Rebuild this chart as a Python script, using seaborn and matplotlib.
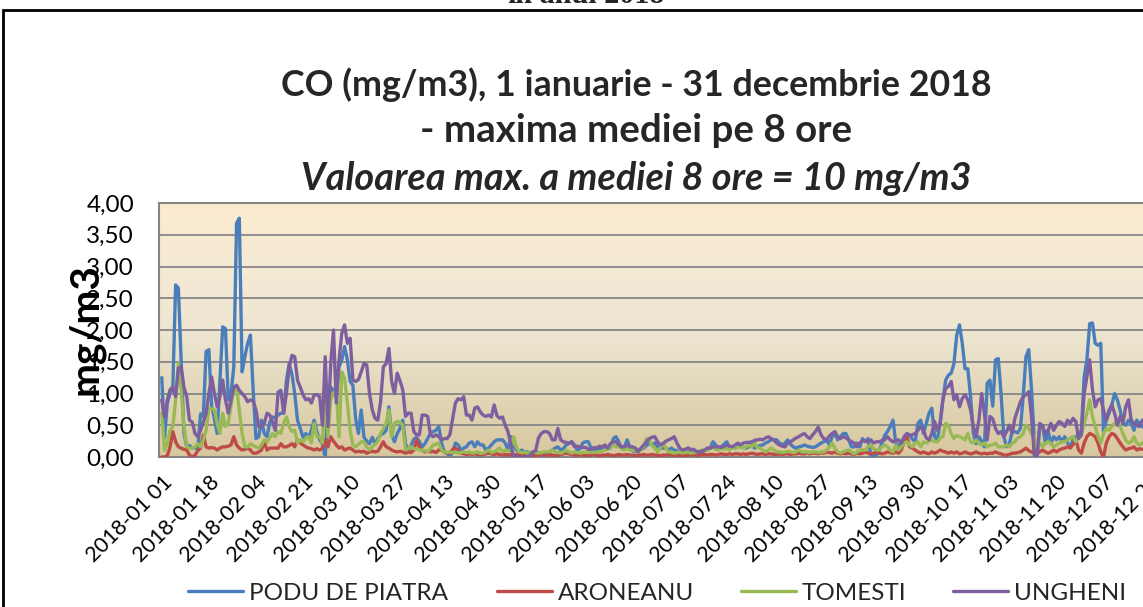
import numpy as np
import pandas as pd
import matplotlib
matplotlib.use("Agg")
import matplotlib.pyplot as plt
import matplotlib.patches as mpatches
import seaborn as sns

# ---------------- data (daily maximum of 8h mean, mg/m3), day 0 = 2018-01-01 ----------------
podu_de_piatra = [
    1.25, 0.30, 0.85, 1.00, 1.10, 2.71, 2.66, 1.50, 0.37, 0.16,
    0.18, 0.14, 0.15, 0.12, 0.68, 0.64, 1.66, 1.69, 0.80, 0.60,
    0.37, 1.20, 2.05, 2.02, 0.90, 1.00, 1.42, 3.68, 3.76, 1.34,
    1.58, 1.79, 1.92, 1.05, 0.29, 0.32, 0.58, 0.37, 0.32, 0.55,
    0.63, 0.62, 0.66, 0.69, 0.69, 1.20, 1.47, 1.30, 1.00, 0.58,
    0.45, 0.31, 0.37, 0.31, 0.42, 0.58, 0.40, 0.27, 0.21, 0.00,
    0.74, 1.10, 1.05, 0.95, 1.42, 1.53, 1.74, 1.53, 1.19, 1.13,
    0.60, 0.37, 0.74, 0.31, 0.25, 0.21, 0.31, 0.21, 0.29, 0.35,
    0.37, 0.42, 0.79, 0.35, 0.24, 0.37, 0.45, 0.58, 0.21, 0.10,
    0.18, 0.28, 0.31, 0.24, 0.16, 0.21, 0.29, 0.37, 0.40, 0.42,
    0.48, 0.22, 0.08, 0.05, 0.03, 0.06, 0.22, 0.19, 0.11, 0.14,
    0.16, 0.22, 0.24, 0.16, 0.24, 0.19, 0.19, 0.11, 0.14, 0.19,
    0.24, 0.27, 0.27, 0.27, 0.22, 0.11, 0.32, 0.19, 0.11, 0.08,
    0.11, 0.08, 0.08, 0.06, 0.06, 0.08, 0.06, 0.04, 0.03, 0.06,
    0.08, 0.11, 0.14, 0.16, 0.11, 0.13, 0.19, 0.22, 0.24, 0.19,
    0.11, 0.13, 0.22, 0.24, 0.24, 0.14, 0.11, 0.11, 0.13, 0.14,
    0.14, 0.13, 0.14, 0.29, 0.32, 0.24, 0.13, 0.16, 0.27, 0.16,
    0.10, 0.08, 0.11, 0.12, 0.14, 0.18, 0.22, 0.19, 0.22, 0.16,
    0.14, 0.14, 0.14, 0.11, 0.14, 0.11, 0.10, 0.08, 0.08, 0.11,
    0.14, 0.12, 0.11, 0.08, 0.06, 0.08, 0.10, 0.12, 0.14, 0.24,
    0.19, 0.14, 0.16, 0.20, 0.24, 0.14, 0.16, 0.14, 0.19, 0.16,
    0.15, 0.14, 0.16, 0.19, 0.14, 0.16, 0.18, 0.19, 0.22, 0.24,
    0.27, 0.27, 0.27, 0.22, 0.19, 0.22, 0.27, 0.20, 0.16, 0.14,
    0.16, 0.17, 0.19, 0.17, 0.16, 0.15, 0.16, 0.19, 0.22, 0.24,
    0.27, 0.19, 0.32, 0.37, 0.27, 0.32, 0.37, 0.37, 0.27, 0.16,
    0.16, 0.22, 0.16, 0.29, 0.24, 0.29, 0.03, 0.00, 0.03, 0.10,
    0.22, 0.34, 0.40, 0.48, 0.58, 0.22, 0.16, 0.24, 0.22, 0.37,
    0.34, 0.28, 0.24, 0.53, 0.58, 0.37, 0.53, 0.69, 0.77, 0.32,
    0.27, 0.53, 0.90, 1.21, 1.29, 1.32, 1.47, 1.92, 2.08, 1.79,
    1.39, 1.39, 0.95, 0.37, 0.21, 0.32, 0.25, 0.16, 1.16, 1.21,
    0.80, 1.53, 1.55, 1.00, 0.32, 0.16, 0.20, 0.40, 0.40, 0.38,
    0.45, 0.95, 1.58, 1.69, 1.06, 0.27, 0.00, 0.50, 0.50, 0.21,
    0.42, 0.21, 0.32, 0.27, 0.32, 0.24, 0.32, 0.22, 0.16, 0.27,
    0.32, 0.35, 0.42, 1.26, 1.53, 2.10, 2.11, 1.79, 1.76, 1.79,
    0.40, 0.58, 0.69, 0.82, 1.00, 0.90, 0.74, 0.53, 0.50, 0.58,
    0.53, 0.42, 0.58, 0.53, 0.48, 0.45, 0.50, 0.55, 0.48, 0.42,
    0.45, 0.50, 0.46, 0.40, 0.44,
]

aroneanu = [
    0.00, 0.00, 0.02, 0.16, 0.40, 0.24, 0.16, 0.14, 0.12, 0.11,
    0.03, 0.00, 0.03, 0.10, 0.14, 0.35, 0.16, 0.14, 0.15, 0.14,
    0.11, 0.14, 0.16, 0.16, 0.17, 0.19, 0.32, 0.19, 0.14, 0.11,
    0.12, 0.14, 0.11, 0.06, 0.06, 0.08, 0.11, 0.24, 0.11, 0.14,
    0.14, 0.14, 0.14, 0.21, 0.16, 0.16, 0.18, 0.21, 0.16, 0.27,
    0.22, 0.19, 0.16, 0.14, 0.13, 0.11, 0.13, 0.11, 0.14, 0.27,
    0.16, 0.32, 0.25, 0.19, 0.14, 0.16, 0.11, 0.13, 0.14, 0.11,
    0.08, 0.09, 0.08, 0.09, 0.06, 0.08, 0.09, 0.08, 0.09, 0.16,
    0.24, 0.16, 0.14, 0.11, 0.09, 0.08, 0.09, 0.08, 0.06, 0.08,
    0.07, 0.11, 0.27, 0.16, 0.11, 0.08, 0.09, 0.08, 0.09, 0.07,
    0.11, 0.11, 0.08, 0.06, 0.06, 0.12, 0.14, 0.11, 0.06, 0.05,
    0.04, 0.05, 0.04, 0.05, 0.04, 0.03, 0.04, 0.05, 0.06, 0.05,
    0.04, 0.05, 0.04, 0.03, 0.04, 0.03, 0.04, 0.03, 0.04, 0.03,
    0.02, 0.03, 0.04, 0.03, 0.03, 0.02, 0.03, 0.04, 0.03, 0.03,
    0.04, 0.03, 0.02, 0.03, 0.04, 0.05, 0.06, 0.05, 0.04, 0.03,
    0.03, 0.04, 0.03, 0.02, 0.03, 0.03, 0.04, 0.03, 0.02, 0.03,
    0.03, 0.04, 0.03, 0.02, 0.03, 0.04, 0.03, 0.03, 0.04, 0.03,
    0.03, 0.02, 0.03, 0.03, 0.04, 0.03, 0.03, 0.04, 0.03, 0.03,
    0.02, 0.03, 0.03, 0.04, 0.03, 0.03, 0.02, 0.03, 0.03, 0.02,
    0.03, 0.03, 0.04, 0.03, 0.03, 0.04, 0.04, 0.03, 0.04, 0.04,
    0.03, 0.04, 0.05, 0.04, 0.04, 0.05, 0.04, 0.05, 0.05, 0.04,
    0.05, 0.04, 0.05, 0.06, 0.05, 0.04, 0.05, 0.05, 0.04, 0.05,
    0.05, 0.04, 0.04, 0.05, 0.04, 0.05, 0.05, 0.04, 0.05, 0.05,
    0.06, 0.05, 0.05, 0.06, 0.05, 0.06, 0.06, 0.05, 0.07, 0.06,
    0.08, 0.07, 0.06, 0.08, 0.06, 0.05, 0.06, 0.05, 0.06, 0.05,
    0.04, 0.06, 0.05, 0.06, 0.08, 0.06, 0.05, 0.06, 0.08, 0.06,
    0.05, 0.06, 0.08, 0.07, 0.06, 0.08, 0.06, 0.11, 0.24, 0.32,
    0.16, 0.14, 0.11, 0.08, 0.06, 0.08, 0.06, 0.05, 0.08, 0.06,
    0.08, 0.11, 0.09, 0.08, 0.06, 0.08, 0.06, 0.08, 0.05, 0.06,
    0.08, 0.06, 0.05, 0.06, 0.08, 0.06, 0.05, 0.06, 0.05, 0.06,
    0.06, 0.08, 0.06, 0.05, 0.03, 0.03, 0.04, 0.06, 0.06, 0.07,
    0.08, 0.11, 0.14, 0.10, 0.08, 0.06, 0.06, 0.08, 0.11, 0.08,
    0.06, 0.08, 0.11, 0.08, 0.11, 0.13, 0.14, 0.16, 0.14, 0.20,
    0.27, 0.11, 0.06, 0.22, 0.32, 0.37, 0.35, 0.32, 0.22, 0.08,
    0.00, 0.22, 0.32, 0.37, 0.35, 0.29, 0.22, 0.16, 0.11, 0.13,
    0.14, 0.16, 0.11, 0.13, 0.12, 0.14, 0.12, 0.15, 0.13, 0.11,
    0.14, 0.16, 0.12, 0.13, 0.15,
]

tomesti = [
    0.69, 0.11, 0.21, 0.42, 0.48, 0.90, 1.48, 1.05, 0.48, 0.16,
    0.14, 0.14, 0.16, 0.21, 0.16, 0.27, 0.42, 0.77, 0.76, 0.74,
    0.53, 0.37, 0.69, 0.48, 0.53, 0.80, 1.05, 1.10, 0.74, 0.37,
    0.16, 0.16, 0.21, 0.18, 0.16, 0.14, 0.19, 0.27, 0.24, 0.30,
    0.37, 0.32, 0.40, 0.37, 0.53, 0.63, 0.48, 0.40, 0.42, 0.22,
    0.27, 0.24, 0.30, 0.32, 0.22, 0.53, 0.32, 0.32, 0.22, 1.00,
    0.32, 0.90, 1.00, 1.06, 0.32, 1.34, 1.24, 0.85, 0.42, 0.19,
    0.16, 0.20, 0.24, 0.24, 0.16, 0.11, 0.16, 0.20, 0.24, 0.37,
    0.45, 0.53, 0.74, 0.32, 0.53, 0.56, 0.55, 0.50, 0.11, 0.13,
    0.16, 0.13, 0.13, 0.11, 0.11, 0.10, 0.08, 0.13, 0.19, 0.20,
    0.22, 0.11, 0.08, 0.07, 0.08, 0.07, 0.08, 0.06, 0.07, 0.08,
    0.07, 0.08, 0.06, 0.07, 0.08, 0.06, 0.06, 0.08, 0.11, 0.07,
    0.08, 0.11, 0.14, 0.08, 0.11, 0.09, 0.11, 0.32, 0.16, 0.08,
    0.07, 0.08, 0.06, 0.06, 0.08, 0.07, 0.06, 0.07, 0.08, 0.08,
    0.08, 0.11, 0.08, 0.07, 0.06, 0.08, 0.11, 0.08, 0.06, 0.08,
    0.07, 0.06, 0.07, 0.08, 0.07, 0.08, 0.07, 0.08, 0.08, 0.09,
    0.11, 0.14, 0.14, 0.19, 0.16, 0.16, 0.14, 0.11, 0.13, 0.11,
    0.11, 0.10, 0.08, 0.12, 0.16, 0.29, 0.27, 0.18, 0.14, 0.08,
    0.14, 0.22, 0.14, 0.08, 0.07, 0.06, 0.07, 0.08, 0.06, 0.07,
    0.08, 0.06, 0.07, 0.08, 0.09, 0.11, 0.10, 0.11, 0.13, 0.16,
    0.12, 0.11, 0.14, 0.12, 0.14, 0.11, 0.16, 0.14, 0.15, 0.16,
    0.14, 0.16, 0.19, 0.16, 0.22, 0.15, 0.14, 0.11, 0.08, 0.11,
    0.14, 0.11, 0.08, 0.08, 0.07, 0.08, 0.09, 0.08, 0.07, 0.08,
    0.11, 0.08, 0.08, 0.08, 0.07, 0.08, 0.08, 0.07, 0.08, 0.08,
    0.11, 0.16, 0.22, 0.14, 0.08, 0.06, 0.08, 0.10, 0.11, 0.08,
    0.05, 0.08, 0.11, 0.11, 0.11, 0.16, 0.19, 0.13, 0.11, 0.11,
    0.16, 0.19, 0.16, 0.11, 0.08, 0.19, 0.11, 0.16, 0.22, 0.24,
    0.19, 0.16, 0.22, 0.24, 0.16, 0.24, 0.22, 0.25, 0.27, 0.24,
    0.24, 0.30, 0.32, 0.53, 0.50, 0.37, 0.29, 0.34, 0.32, 0.30,
    0.27, 0.37, 0.24, 0.22, 0.27, 0.22, 0.19, 0.22, 0.16, 0.19,
    0.19, 0.22, 0.16, 0.16, 0.16, 0.19, 0.16, 0.22, 0.24, 0.30,
    0.32, 0.37, 0.50, 0.45, 0.37, 0.32, 0.11, 0.22, 0.16, 0.22,
    0.24, 0.22, 0.16, 0.19, 0.22, 0.24, 0.24, 0.27, 0.30, 0.32,
    0.24, 0.32, 0.35, 0.53, 0.69, 0.90, 0.64, 0.48, 0.32, 0.22,
    0.37, 0.45, 0.42, 0.48, 0.53, 0.58, 0.48, 0.37, 0.27, 0.22,
    0.24, 0.32, 0.22, 0.19, 0.22, 0.24, 0.20, 0.22, 0.26, 0.24,
    0.20, 0.22, 0.25, 0.21, 0.23,
]

ungheni = [
    0.90, 0.63, 0.90, 1.06, 1.10, 0.95, 1.40, 1.42, 1.10, 0.95,
    0.58, 0.55, 0.37, 0.32, 0.42, 0.55, 0.69, 1.00, 1.26, 1.00,
    0.79, 0.95, 1.21, 0.90, 0.69, 0.90, 1.10, 1.13, 1.05, 1.00,
    0.95, 0.87, 0.90, 0.88, 0.74, 0.48, 0.48, 0.53, 0.69, 0.66,
    0.55, 0.42, 1.02, 1.05, 0.69, 1.00, 1.42, 1.60, 1.58, 1.21,
    1.10, 0.98, 0.90, 0.92, 0.85, 0.98, 0.98, 0.95, 0.50, 1.58,
    0.48, 1.47, 2.00, 0.85, 1.53, 1.95, 2.08, 1.79, 1.87, 1.21,
    1.19, 1.22, 1.34, 1.47, 1.45, 1.00, 0.74, 0.61, 0.58, 0.87,
    1.42, 1.47, 1.71, 1.19, 1.00, 1.32, 1.20, 1.06, 0.64, 0.69,
    0.69, 0.40, 0.35, 0.35, 0.66, 0.66, 0.64, 0.35, 0.32, 0.35,
    0.32, 0.27, 0.29, 0.29, 0.35, 0.60, 0.85, 0.92, 0.90, 0.95,
    0.66, 0.66, 0.58, 0.77, 0.79, 0.71, 0.66, 0.64, 0.66, 0.63,
    0.82, 0.65, 0.61, 0.63, 0.50, 0.40, 0.20, 0.00, 0.00, 0.00,
    0.00, 0.00, 0.00, 0.03, 0.08, 0.10, 0.30, 0.37, 0.40, 0.40,
    0.37, 0.27, 0.27, 0.45, 0.27, 0.24, 0.23, 0.21, 0.24, 0.16,
    0.17, 0.16, 0.15, 0.15, 0.12, 0.12, 0.15, 0.14, 0.17, 0.16,
    0.19, 0.14, 0.21, 0.24, 0.24, 0.19, 0.16, 0.16, 0.19, 0.16,
    0.16, 0.14, 0.08, 0.14, 0.19, 0.24, 0.29, 0.31, 0.32, 0.24,
    0.19, 0.21, 0.25, 0.27, 0.29, 0.32, 0.22, 0.14, 0.11, 0.12,
    0.14, 0.11, 0.12, 0.09, 0.08, 0.09, 0.11, 0.14, 0.14, 0.16,
    0.16, 0.16, 0.15, 0.17, 0.19, 0.17, 0.16, 0.19, 0.22, 0.19,
    0.22, 0.23, 0.23, 0.24, 0.26, 0.27, 0.28, 0.27, 0.30, 0.32,
    0.29, 0.27, 0.22, 0.19, 0.17, 0.16, 0.22, 0.24, 0.27, 0.30,
    0.32, 0.35, 0.37, 0.32, 0.29, 0.35, 0.40, 0.47, 0.35, 0.29,
    0.27, 0.33, 0.37, 0.40, 0.32, 0.29, 0.32, 0.30, 0.27, 0.24,
    0.22, 0.16, 0.22, 0.26, 0.25, 0.24, 0.27, 0.22, 0.24, 0.24,
    0.26, 0.27, 0.32, 0.27, 0.24, 0.26, 0.27, 0.22, 0.32, 0.37,
    0.34, 0.35, 0.37, 0.42, 0.48, 0.42, 0.30, 0.27, 0.37, 0.56,
    0.42, 0.53, 0.90, 1.08, 1.11, 1.19, 0.90, 0.98, 0.79, 0.92,
    0.98, 0.90, 0.74, 0.48, 0.32, 0.58, 1.00, 0.69, 0.27, 0.64,
    0.60, 0.45, 0.37, 0.40, 0.32, 0.40, 0.50, 0.37, 0.61, 0.74,
    0.87, 0.95, 0.98, 1.03, 0.64, 0.03, 0.00, 0.53, 0.48, 0.37,
    0.42, 0.53, 0.42, 0.50, 0.56, 0.53, 0.48, 0.58, 0.53, 0.61,
    0.56, 0.29, 0.35, 1.00, 1.26, 1.53, 1.06, 0.79, 0.90, 0.92,
    0.74, 0.58, 0.74, 0.82, 0.69, 0.50, 0.64, 0.53, 0.79, 0.90,
    0.58, 0.53, 0.50, 0.48, 0.58, 0.55, 0.50, 0.60, 0.52, 0.48,
    0.55, 0.62, 0.50, 0.45, 0.52,
]

stations = ["PODU DE PIATRA", "ARONEANU", "TOMESTI", "UNGHENI"]
series = [podu_de_piatra, aroneanu, tomesti, ungheni]
colors = ["#4A7EBB", "#BE4B48", "#98B954", "#7D5FA0"]

tick_days = [0, 17, 34, 51, 68, 85, 102, 119, 136, 153, 170, 187, 204,
             221, 238, 255, 272, 289, 306, 323, 340, 357]
tick_labels = ["2018-01 01", "2018-01 18", "2018-02 04", "2018-02 21",
               "2018-03 10", "2018-03 27", "2018-04 13", "2018-04 30",
               "2018-05 17", "2018-06 03", "2018-06 20", "2018-07 07",
               "2018-07 24", "2018-08 10", "2018-08 27", "2018-09 13",
               "2018-09 30", "2018-10 17", "2018-11 03", "2018-11 20",
               "2018-12 07", "2018-12 24"]
y_ticks = [0.0, 0.5, 1.0, 1.5, 2.0, 2.5, 3.0, 3.5, 4.0]

title_1 = "CO (mg/m3), 1 ianuarie - 31 decembrie 2018"
title_2 = "- maxima mediei pe 8 ore"
title_3 = "Valoarea max. a mediei 8 ore = 10 mg/m3"
y_label = "mg/m3"
top_cut_text = "în anul 2018"

# ---------------- build long table ----------------
frames = []
for name, vals in zip(stations, series):
    frames.append(pd.DataFrame({"day": np.arange(len(vals)), "value": vals, "station": name}))
df = pd.concat(frames, ignore_index=True)

sns.set_theme(style="white")
plt.rcParams["font.family"] = ["Lato", "DejaVu Sans"]

W, H = 1143, 607
fig = plt.figure(figsize=(W / 100, H / 100), dpi=100)
fig.patch.set_facecolor("white")
renderer = fig.canvas.get_renderer()


def px2fig(x, y):
    return x / W, 1 - y / H


def fit_width(t, target_px, use_height=False):
    bb = t.get_window_extent(renderer)
    cur = bb.height if use_height else bb.width
    t.set_fontsize(t.get_fontsize() * target_px / cur)


# axes: left 159px, top 203px, bottom 457px, extends past the right edge
ax_left, ax_top, ax_bottom, ax_right = 159, 203, 457, 1170
ax = fig.add_axes([ax_left / W, 1 - ax_bottom / H, (ax_right - ax_left) / W, (ax_bottom - ax_top) / H])

# gradient background
grad_cols = np.array([
    [252, 235, 207],
    [245, 234, 212],
    [238, 230, 210],
    [226, 215, 186],
    [216, 199, 158],
]) / 255.0
n = 256
pos = np.linspace(0, 1, len(grad_cols))
tt = np.linspace(0, 1, n)
img = np.stack([np.interp(tt, pos, grad_cols[:, c]) for c in range(3)], axis=1)[:, None, :]
ax.imshow(img, extent=[-1, 364, 0, 4], aspect="auto", origin="upper", zorder=0)

sns.lineplot(data=df, x="day", y="value", hue="station", hue_order=stations,
             palette=colors, linewidth=2.4, legend=False, ax=ax, zorder=3)

ax.set_xlim(-1, 364)
ax.set_ylim(0, 4)
ax.set_yticks(y_ticks)
ax.set_yticklabels([f"{v:.2f}".replace(".", ",") for v in y_ticks])
ax.set_xticks(tick_days)
ax.set_xticklabels(tick_labels, rotation=45, ha="right", va="top", rotation_mode="anchor")
ax.tick_params(axis="both", length=0, colors="black")
ax.tick_params(axis="y", pad=18, labelsize=17.5)
ax.tick_params(axis="x", pad=11, labelsize=15.5)
ax.set_xlabel("")
ax.set_ylabel("")
ax.yaxis.grid(True, color="#868686", linewidth=1.3, zorder=1)
for gl in ax.get_ygridlines():
    gl.set_zorder(1)
for s in ["left", "bottom", "top", "right"]:
    ax.spines[s].set_color("#868686")
    ax.spines[s].set_linewidth(1.5)

# y-axis label
yl = fig.text(*px2fig(86, 329), y_label, rotation=90, ha="center", va="center",
              fontsize=28, fontweight="bold", color="black")
fit_width(yl, 132, use_height=True)

# titles
t1 = fig.text(*px2fig(636, 85), title_1, ha="center", va="center", fontsize=25, fontweight="bold")
t2 = fig.text(*px2fig(636, 131), title_2, ha="center", va="center", fontsize=25, fontweight="bold")
t3 = fig.text(*px2fig(636, 178), title_3, ha="center", va="center", fontsize=25, fontweight="bold",
              fontstyle="italic")
fit_width(t1, 712)
fit_width(t2, 432)
fit_width(t3, 672)

# cut text above border
tc = fig.text(*px2fig(586, 3), top_cut_text, ha="center", va="baseline", fontsize=15,
              fontweight="bold", family="Liberation Serif")
fit_width(tc, 158)

# outer chart border
rect = mpatches.Rectangle(px2fig(3, 700), 2.0, (700 - 10) / H, transform=fig.transFigure,
                          fill=False, edgecolor="black", linewidth=2.0, clip_on=False)
fig.patches.append(rect)

# legend: one entry per station placed where the reference places it
leg_fs = 17.5
em_px = leg_fs * 100 / 72
handles = ax.get_lines()[:4]
leg_x = [188, 497, 741, 953]
for h, name, lx in zip(handles, stations, leg_x):
    lg = fig.legend([h], [name], loc="center left", bbox_to_anchor=px2fig(lx, 593),
                    frameon=False, fontsize=leg_fs, handlelength=55 / em_px,
                    handletextpad=6 / em_px, borderaxespad=0, borderpad=0)
    for lh in lg.legend_handles:
        lh.set_linewidth(2.4)

fig.savefig("out.png", dpi=100)
